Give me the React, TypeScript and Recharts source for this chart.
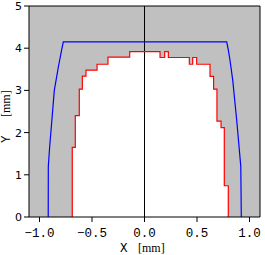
import { ComposedChart, Line, Area, XAxis, YAxis, CartesianGrid, ReferenceLine } from 'recharts';

// axis ticks (mm)
const xTicks = [-1.0, -0.5, 0.0, 0.5, 1.0];
const yTicks = [0, 1, 2, 3, 4, 5];

// measured profile, stepped (red)
const profileX = [-0.688, -0.688, -0.659, -0.621, -0.592, -0.557, -0.452, -0.348, -0.141, 0.148, 0.192, 0.227, 0.427, 0.459, 0.497, 0.624, 0.658, 0.69, 0.729, 0.76, 0.798];
const profileY = [0, 1.65, 2.4, 3.03, 3.34, 3.48, 3.62, 3.79, 3.92, 3.78, 3.92, 3.78, 3.62, 3.78, 3.62, 3.33, 3.03, 2.27, 2.12, 0.74, 0];

// nominal envelope (blue)
const envelopeX = [-0.917, -0.916, -0.903, -0.882, -0.859, -0.82, -0.789, -0.773, 0.783, 0.798, 0.814, 0.84, 0.878, 0.917, 0.922];
const envelopeY = [0, 1.2, 1.67, 2.3, 3.0, 3.56, 3.96, 4.15, 4.15, 3.96, 3.72, 3.25, 2.3, 1.2, 0];

// centre line
const centreX = [0, 0];
const centreY = [0, 5];

const zip = (xs: number[], ys: number[]) => xs.map((x, i) => ({ x, y: ys[i] }));

const profileData = zip(profileX, profileY);
const envelopeData = zip(envelopeX, envelopeY);
const centreData = zip(centreX, centreY);

const MONO = '"Liberation Mono", monospace';
const SERIF = '"Liberation Serif", serif';

const fmtX = (v: number) => (v < 0 ? '\u2212' : '') + Math.abs(v).toFixed(1);

const XLabel = ({ viewBox }: any) => {
  const cx = viewBox.x + viewBox.width / 2;
  const y = viewBox.y + 34.5;
  return (
    <g>
      <text x={cx - 24.5} y={y} fontFamily={MONO} fontSize={12.5} fill="#000">X</text>
      <text x={cx - 6.5} y={y} fontFamily={SERIF} fontSize={12} fill="#000">[mm]</text>
    </g>
  );
};

const YLabel = ({ viewBox }: any) => {
  const cy = viewBox.y + 110;
  return (
    <g transform={`translate(10, ${cy}) rotate(-90)`}>
      <text x={-27} y={0} fontFamily={MONO} fontSize={12.5} fill="#000">Y</text>
      <text x={-1} y={0} fontFamily={SERIF} fontSize={12} fill="#000">[mm]</text>
    </g>
  );
};

export default function App() {
  return (
    <div style={{ position: 'absolute', left: 0, top: 0 }}>
      <ComposedChart width={265} height={255} margin={{ top: 6, right: 5, left: 0, bottom: 0 }}>
        <CartesianGrid fill="#c0c0c0" fillOpacity={1} horizontal={false} vertical={false} />
        <XAxis
          type="number"
          dataKey="x"
          domain={[-1.1, 1.1]}
          ticks={xTicks}
          tickFormatter={fmtX}
          allowDataOverflow
          height={38}
          tickSize={5}
          tickMargin={6}
          stroke="#000"
          tick={{ fill: '#000', fontFamily: MONO, fontSize: 12.5 }}
          label={{ content: XLabel }}
        />
        <YAxis
          type="number"
          dataKey="y"
          domain={[0, 5]}
          ticks={yTicks}
          allowDataOverflow
          width={29}
          tickSize={5}
          tickMargin={2}
          stroke="#000"
          tick={{ fill: '#000', fontFamily: '"DejaVu Sans", sans-serif', fontSize: 11 }}
          label={{ content: YLabel }}
        />
        <Area
          data={profileData}
          dataKey="y"
          type="stepAfter"
          baseValue={0}
          fill="#ffffff"
          fillOpacity={1}
          stroke="none"
          isAnimationActive={false}
          dot={false}
          activeDot={false}
        />
        <Line data={centreData} dataKey="y" type="linear" stroke="#000" strokeWidth={1} dot={false} activeDot={false} isAnimationActive={false} />
        <Line data={profileData} dataKey="y" type="stepAfter" stroke="#ff0000" strokeWidth={1.2} dot={false} activeDot={false} isAnimationActive={false} />
        <Line data={envelopeData} dataKey="y" type="linear" stroke="#0000ff" strokeWidth={1.2} dot={false} activeDot={false} isAnimationActive={false} />
        <ReferenceLine y={5} stroke="#000" />
        <ReferenceLine x={1.1} stroke="#000" />
      </ComposedChart>
    </div>
  );
}
